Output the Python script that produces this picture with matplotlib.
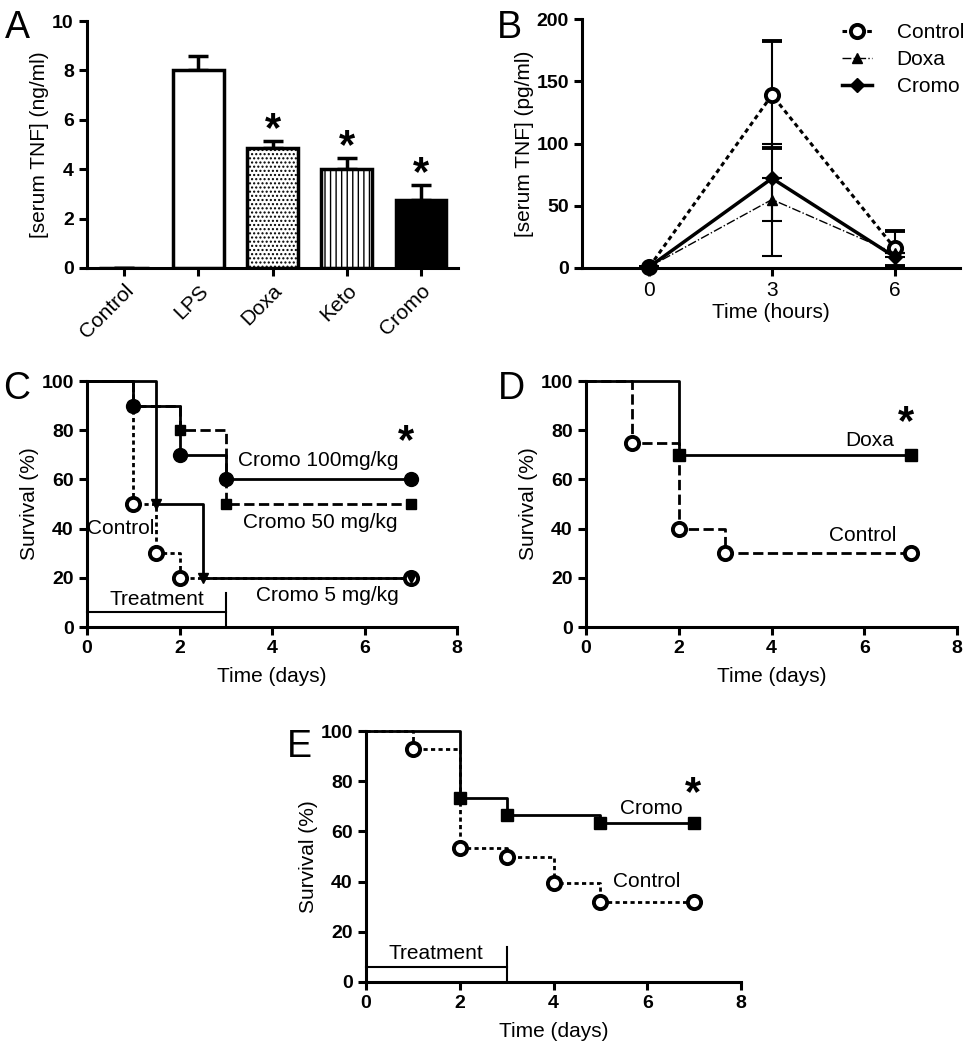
import matplotlib
matplotlib.use('Agg')
import matplotlib.pyplot as plt

plt.rcParams['font.family'] = ['Liberation Sans', 'DejaVu Sans']
plt.rcParams['hatch.linewidth'] = 1.0

# Panel A: serum TNF per group (ng/ml)
a_groups = ['Control', 'LPS', 'Doxa', 'Keto', 'Cromo']
a_values = [0, 8.0, 4.85, 4.0, 2.75]
a_errors = [0, 0.6, 0.3, 0.45, 0.6]
a_hatches = ['', '', '....', '|||', '']
a_colors = ['white', 'white', 'white', 'white', 'black']
a_signif = [False, False, True, True, True]

# Panel B: serum TNF time course (pg/ml)
b_hours = [0, 3, 6]
b_control = [1, 139, 16]
b_control_err = [0, 43, 14]
b_doxa = [1, 55, 12]
b_doxa_err = [0, 45, 0]
b_cromo = [1, 72, 9]
b_cromo_err_lo = [0, 34, 7]
b_cromo_err_hi = [0, 0, 0]

# Panel C: survival, cromolyn doses
c_ctrl_t = [0, 1, 1.5, 2, 7]
c_ctrl_s = [100, 50, 30, 20, 20]
c_c100_t = [0, 1, 2, 3, 7]
c_c100_s = [100, 90, 70, 60, 60]
c_c50_t = [0, 1, 2, 3, 7]
c_c50_s = [100, 90, 80, 50, 50]
c_c5_t = [0, 1.5, 2.5, 7]
c_c5_s = [100, 50, 20, 20]

# Panel D: survival, doxantrazole
d_ctrl_t = [0, 1, 2, 3, 7]
d_ctrl_s = [100, 75, 40, 30, 30]
d_doxa_t = [0, 2, 7]
d_doxa_s = [100, 70, 70]

# Panel E: survival, cromolyn
e_ctrl_t = [0, 1, 2, 3, 4, 5, 7]
e_ctrl_s = [100, 93, 53.5, 50, 39.3, 32, 32]
e_cromo_t = [0, 2, 3, 5, 7]
e_cromo_s = [100, 73.3, 66.7, 63.3, 63.3]

W, H = 971, 1050
fig = plt.figure(figsize=(W / 100, H / 100), dpi=100)
FS = 15
TICK = 14
DOTS = (0, (1.5, 1.2))


def px_axes(l, t, r, b):
    return fig.add_axes([l / W, 1 - b / H, (r - l) / W, (b - t) / H])


def style(ax, bold_x=True):
    for s in ['top', 'right']:
        ax.spines[s].set_visible(False)
    for s in ['left', 'bottom']:
        ax.spines[s].set_linewidth(2.2)
    ax.tick_params(direction='out', length=6, width=2.2, labelsize=TICK)
    for lab in ax.get_yticklabels():
        lab.set_fontweight('bold')
    if bold_x:
        for lab in ax.get_xticklabels():
            lab.set_fontweight('bold')


def survival(ax, t, s, ls, marker, ms, filled=True, lw=2.0):
    ax.step(t, s, where='post', color='black', ls=ls, lw=lw, clip_on=False)
    fc = 'black' if filled else 'white'
    ax.plot(t[1:], s[1:], ls='none', marker=marker, ms=ms, mfc=fc, mec='black',
            mew=2.8 if not filled else 1, clip_on=False, zorder=5)


def surv_axes(ax):
    ax.set_xlim(0, 8)
    ax.set_ylim(0, 100)
    ax.set_xticks([0, 2, 4, 6, 8])
    ax.set_yticks([0, 20, 40, 60, 80, 100])
    ax.set_xlabel('Time (days)', fontsize=FS, labelpad=7)
    ax.set_ylabel('Survival (%)', fontsize=FS, labelpad=2)
    style(ax)


def treatment(ax):
    ax.plot([0, 3], [6, 6], color='black', lw=1.5, clip_on=False)
    ax.plot([3, 3], [0, 14], color='black', lw=1.5, clip_on=False)
    ax.text(1.5, 7.5, 'Treatment', ha='center', va='bottom', fontsize=FS)


def star(ax, x, y):
    ax.text(x, y, '*', ha='center', va='center', fontsize=30, fontweight='bold')


# ---- A ----
axA = px_axes(87, 21, 458, 268)
x = list(range(len(a_groups)))
axA.bar(x, a_values, width=0.68, color=a_colors, edgecolor='black', linewidth=2.5,
        hatch=a_hatches, zorder=2)
axA.errorbar(x, a_values, yerr=[[0] * len(a_errors), a_errors], fmt='none',
             ecolor='black', elinewidth=2.5, capsize=7, capthick=2.5, zorder=1)
for i in x:
    if a_signif[i]:
        star(axA, i, a_values[i] + a_errors[i] + 0.45)
axA.set_xlim(-0.5, 4.5)
axA.set_ylim(0, 10)
axA.set_yticks([0, 2, 4, 6, 8, 10])
axA.set_xticks(x)
axA.set_xticklabels(a_groups, rotation=45, ha='right', rotation_mode='anchor')
axA.set_ylabel('[serum TNF] (ng/ml)', fontsize=FS, labelpad=2)
style(axA, bold_x=False)
axA.tick_params(axis='x', labelsize=FS)

# ---- B ----
axB = px_axes(582, 19, 960, 268)
axB.errorbar(b_hours, b_control, yerr=b_control_err, color='black', ls=DOTS, lw=2.2,
             marker='o', ms=9.5, mfc='white', mec='black', mew=2.8, capsize=7,
             elinewidth=1.5, capthick=1.5, label='Control', clip_on=False, zorder=3)
axB.errorbar(b_hours, b_doxa, yerr=b_doxa_err, color='black', ls='-.', lw=1.0,
             marker='^', ms=7, capsize=7, elinewidth=1.5, capthick=1.5,
             label='Doxa', clip_on=False, zorder=4)
axB.errorbar(b_hours, b_cromo, yerr=[b_cromo_err_lo, b_cromo_err_hi], color='black',
             ls='-', lw=2.5, marker='D', ms=7, capsize=7, elinewidth=1.5,
             capthick=1.5, label='Cromo', clip_on=False, zorder=5)
axB.set_xlim(-1.65, 7.6)
axB.set_ylim(0, 200)
axB.set_xticks(b_hours)
axB.set_yticks([0, 50, 100, 150, 200])
axB.set_xlabel('Time (hours)', fontsize=FS, labelpad=2)
axB.set_ylabel('[serum TNF] (pg/ml)', fontsize=FS, labelpad=2)
style(axB, bold_x=False)
axB.tick_params(axis='x', labelsize=FS)
handles, labels = axB.get_legend_handles_labels()
handles = [h[0] for h in handles]
axB.legend(handles, labels, loc='upper right', bbox_to_anchor=(1.06, 1.06),
           frameon=False, fontsize=FS, handlelength=1.4, labelspacing=0.4,
           handletextpad=1.2)

# ---- C ----
axC = px_axes(87, 381, 457, 627)
survival(axC, c_ctrl_t, c_ctrl_s, DOTS, 'o', 9.5, filled=False)
survival(axC, c_c50_t, c_c50_s, '--', 's', 7)
survival(axC, c_c5_t, c_c5_s, '-', 'v', 7)
survival(axC, c_c100_t, c_c100_s, '-', 'o', 10)
treatment(axC)
axC.text(5.0, 67.5, 'Cromo 100mg/kg', ha='center', va='center', fontsize=FS)
axC.text(5.05, 42.5, 'Cromo 50 mg/kg', ha='center', va='center', fontsize=FS)
axC.text(5.2, 13, 'Cromo 5 mg/kg', ha='center', va='center', fontsize=FS)
axC.text(0.0, 40, 'Control', ha='left', va='center', fontsize=FS)
star(axC, 6.9, 75)
surv_axes(axC)

# ---- D ----
axD = px_axes(586, 381, 957, 627)
survival(axD, d_ctrl_t, d_ctrl_s, '--', 'o', 9.5, filled=False)
survival(axD, d_doxa_t, d_doxa_s, '-', 's', 8)
axD.text(6.65, 76, 'Doxa', ha='right', va='center', fontsize=FS)
axD.text(6.7, 37, 'Control', ha='right', va='center', fontsize=FS)
star(axD, 6.9, 83)
surv_axes(axD)

# ---- E ----
axE = px_axes(366, 731, 741, 982)
survival(axE, e_ctrl_t, e_ctrl_s, DOTS, 'o', 9.5, filled=False)
survival(axE, e_cromo_t, e_cromo_s, '-', 's', 8)
treatment(axE)
axE.text(6.75, 69, 'Cromo', ha='right', va='center', fontsize=FS)
axE.text(6.7, 40, 'Control', ha='right', va='center', fontsize=FS)
star(axE, 6.97, 75)
surv_axes(axE)

# panel letters
for letter, (px, py) in {'A': (5, 10), 'B': (497, 10), 'C': (3, 371),
                         'D': (498, 371), 'E': (287, 729)}.items():
    fig.text(px / W, 1 - py / H, letter, fontsize=27, ha='left', va='top')

fig.savefig('out.png', dpi=100)
